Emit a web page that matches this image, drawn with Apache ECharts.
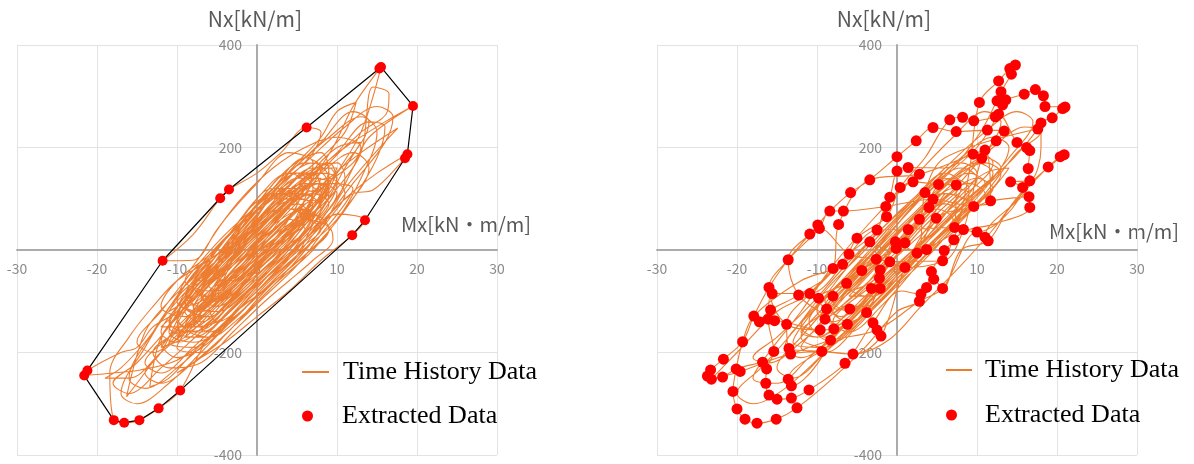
<!DOCTYPE html>
<html><head><meta charset="utf-8">
<script src="https://cdn.jsdelivr.net/npm/echarts@6/dist/echarts.min.js"></script>
<style>html,body{margin:0;padding:0;background:#fff}#c{width:1194px;height:464px}</style>
</head><body><div id="c"></div>
<script>
// ---------------- data ----------------
const seriesNames = ['Time History Data', 'Extracted Data'];
const xTitle = 'Mx[kN・m/m]';
const yTitle = 'Nx[kN/m]';
const xRange = [-30, 30], xStep = 10;
const yRange = [-400, 400], yStep = 200;

const leftHistory = [
[0,0],[4,30],[7,120],[5,150],[1,90],[-3,-10],[-7,-110],[-9,-160],[-6,-150],[-2,-80],[2,-20],[6,60],[9,150],[8,190],[4,160],[-1,70],[-5,-20],[-9,-90],[-11,-150],[-8,-170],[-4,-130],[0,-60],[4,0],[8,70],[10,130],[9,160],[5,130],[1,60],[-4,0],[-8,-40],[-10,-100],[-7,-120],[-3,-70],[1,-10],[5,50],[7,110],[4,120],[0,80],[-3,20],[-6,-50],[-8,-100],
[-12,-180],[-10,-210],[-6,-180],[-2,-110],[2,-40],[6,20],[9,80],[11,140],[10,170],[6,150],[2,100],[-2,50],[-6,-10],[-10,-60],[-12,-110],[-9,-130],[-5,-90],[-1,-30],[3,20],[6,100],[7,170],[4,190],[0,130],[-4,60],[-7,-10],[-9,-60],[-6,-80],[-2,-40],[2,10],[5,40],[8,100],[6,130],[2,90],[-2,10],[-5,-80],[-8,-140],[-10,-190],[-7,-200],[-3,-150],[1,-90],[5,-30],[8,30],[11,90],[12,120],
[9,130],[5,80],[1,20],[-3,-40],[-6,-110],[-5,-140],[-1,-100],[3,-50],[6,-10],[9,40],[7,70],[3,40],[-1,-20],[-5,-90],[-9,-150],[-13,-200],[-11,-230],[-7,-220],[-3,-160],[1,-100],[4,-60],[7,-20],[9.5,21],[9,45],[6,70],[8,120],[12,170],[13,200],[10,220],[6,200],[2,160],[-2,100],[-5,40],[-8,-20],[-11.8,-21],[-8,30],[-4.6,101],[-3.5,118],[0,150],[3,190],[6.2,239],[8,230],[7,190],[4,140],[0,70],[-4,0],[-7,-60],[-10,-120],[-13,-150],[-15,-190],[-17,-200],[-21.2,-235],[-21.6,-245],[-18,-240],[-14.6,-234],[-10,-215],[-6,-170],[-2,-110],[2,-50],[5,10],[8,60],[10,100],[12,160],[14,220],[19.5,281],[16,250],[11,200],[7,150],[3,100],[-1,40],[-5,-30],[-9,-110],[-12,-170],[-13.4,-267],[-11,-250],[-8,-200],[-4,-140],[0,-80],[3,-30],[6,20],[9,70],[12,110],[14.5,117],[18.5,179],[18.8,187],[15,150],[11,100],[8,50],[5,-10],[1,-70],[-2,-120],[-6,-170],[-9.6,-274],[-12.3,-309],[-14.7,-332],[-16.6,-337],[-17.9,-332],[-18.4,-240],[-16,-170],[-13,-110],[-10,-60],[-6,-20],[-2,30],[2,90],[5,140],[8,180],[11,230],[12.4,288],[10,270],[8,220],[5,170],[2,120],[-1,80],[-4,20],[-7,-40],[-11,-100],[-14,-160],[-16.3,-286],[-15,-260],[-12,-200],[-8,-150],[-4,-90],[0,-30],[4,30],[8,90],[10,150],[13,230],[15.5,357],[15.3,354],[12,280],[9.5,200],[6,120],[2,50],[-2,-20],[-6,-90],[-10,-150],[-12,-190],[-9,-170],[-5,-110],[-1,-50],[3,10],[7,70],[10,120],[13,190],[14.5,318],[16.5,305],[16.3,270],[13,230],[9,170],[5,100],[1,30],[-3,-40],[-7,-110],[-11,-170],[-14,-220],[-12,-240],[-8,-190],[-4,-130],[0,-70],[4,-10],[7,30],[10,70],[13.5,58],[11.9,29],[8,-20],[4,-80],[0,-130],[-4,-180],[-8,-220],[-10,-240],[-7,-210],[-3,-150],[1,-80],[5,-20],[8,40],[11,120],[17.6,238],[13,190],[9,140],[5,80],[1,20],[-3,-50],[-7,-120],[-10,-170],[-8,-130],[-4,-70],[0,-10],[4,50],[7,100],[5,110],[1,60],[-3,0],[-6,-60],[-3,-30],
[2,40],[5,90],[3,110],[-1,40],[-4,-40],[-7,-90],[-5,-100],[-1,-30],[3,30],[6,70],[8,140],[5,140],[1,70],[-3,-10],[-6,-70],[-9,-120],[-7,-140],[-3,-90],[1,-20],[4,40],[7,90],[9,120],[6,110],[2,50],[-2,-20],[-6,-100],[-8,-150],[-5,-140],[-1,-80],[3,-10],[6,40],[8,110],[7,150],[3,120],[-1,50],[-5,-30],[-8,-80],[-10,-130],[-8,-160],[-4,-110],[0,-40],[4,20],[7,80],[9,140],[7,170],[3,130],[-1,60],[-4,10],[-7,-50],[-9,-110],[-6,-130],[-2,-70],[2,-10],[5,60],[6,100],[3,90],[-1,20],[-5,-50],[-8,-120],[-6,-160],[-2,-120],[2,-60],[5,-10],[7,50],[9,100],[6,90],[2,30],[-2,-30],[-6,-80],[-9,-140],[-11,-180],[-8,-190],[-4,-140],[0,-70],[4,-10],[7,60],[9,110],[8,150],[4,150],[0,100],[-3,40],[-6,-20],[-9,-70],[-11,-120],[-9,-100],[-5,-50],[-1,10],[3,70],[5,110],[2,110],[-2,40],[-5,-40],[-7,-90],[-4,-90],[0,-30],[4,30],[8,100],[10,160],[7,160],[3,110],[-1,40],[-4,-20],[-8,-70],[-10,-140],[-7,-150],[-3,-100],[1,-40],[4,10],[6,60],[4,80],[0,40],[-3,-20],[-6,-90],[-9,-150],[-6,-170],[-2,-130],[2,-70],[6,0],[8,50],[6,80],[2,40],[-2,-10],[-5,-60],[-3,-60],[1,0],[4,60],[6,120],[2,120],[-2,60],[-5,0],[-8,-60],[-6,-60],[-2,0],[2,60],[4,100],[1,100],[-3,40],[-6,-30],[-4,-60],
[3,60],[6,110],[8,160],[6,180],[2,120],[-2,50],[-6,-30],[-9,-90],[-11,-140],[-9,-160],[-5,-110],[-1,-50],[3,10],[6,50],[8,90],[10,140],[8,150],[4,100],[0,40],[-4,-30],[-7,-80],[-10,-140],[-8,-150],[-4,-100],[0,-40],[3,0],[6,40],[4,60],[1,20],[-2,-30],[-5,-80],[-8,-130],[-6,-130],[-2,-70],[1,-20],[5,40],[8,110],[9,160],[6,170],[2,110],[-2,40],[-5,-10],[-8,-60],[-10,-110],[-12,-160],[-10,-180],[-6,-140],[-2,-80],[2,-20],[5,30],[7,70],[9,130],[7,140],[3,80],[-1,20],[-4,-40],[-7,-90],[-5,-110],[-1,-60],[3,-10],[7,50],[9,90],[7,110],[3,70],[-1,0],[-4,-60],[-7,-120],[-9,-170],[-6,-170],[-2,-110],[2,-50],[5,0],[8,60],[10,110],[8,130],[4,90],[0,20],[-4,-40],[-8,-100],[-10,-150],[-7,-160],[-3,-110],[1,-50],[4,0],[7,60],[5,90],[1,40],[-3,-10],[-6,-60],[-9,-110],[-7,-100],[-3,-50],[0,10],[3,70],[6,130],[4,150],[0,90],[-3,30],[-6,-40],[-9,-100],[-11,-160],[-8,-180],[-4,-150],[0,-90],[4,-30],[7,20],[9,60],[11,110],[9,140],[5,110],[1,50],[-3,-20],[-6,-70],[-4,-80],[0,-20],[4,40],[7,100],[8,130],[5,120],[1,70],[-3,10],[-7,-50],[-10,-100],[-8,-120],[-4,-80],[0,-20],[3,30],[6,80],[3,80],[-1,20],[-4,-30],[-7,-80],[-5,-100],[-1,-60],[2,-20],[5,20],[8,80],[6,110],[2,70],[-2,10],[-6,-50],[-9,-90],[-7,-110],[-3,-70],[1,-10],[5,50],[7,90],[4,100],[0,50],[-4,-10],[-7,-60],[-10,-120],[-12,-150],[-9,-150],[-5,-100],[-1,-40],[3,20],[6,70],[9,120],[7,130],[3,80],[-1,30],[-5,-20],[-8,-70],[-6,-90],[-2,-50],[2,0],[5,50],[7,80],[4,70],[0,20],[-3,-30],[-6,-80],[-8,-110],[-5,-120],[-1,-80],[3,-30],[6,10],[8,40],[6,60],[2,20],[-2,-30],[-5,-70],[-3,-50],
[4,60],[10,150],[14,250],[12,270],[8,210],[2,120],[-4,20],[-9,-70],[-13,-160],[-16,-250],[-14,-270],[-10,-230],[-5,-160],[0,-80],[5,-10],[10,60],[13,140],[15,230],[13,260],[9,220],[4,150],[-1,70],[-6,-10],[-10,-90],[-14,-190],[-17,-280],[-15,-300],[-11,-260],[-7,-200],[-2,-120],[3,-50],[8,20],[12,100],[15,180],[16,240],[14,250],[10,190],[5,120],[0,50],[-5,-30],[-9,-110],[-12,-200],[-14,-240],[-12,-260],[-8,-220],[-3,-150],[2,-70],[7,0],[11,80],[14,160],[12,190],[8,150],[3,80],[-2,10],[-7,-70],[-11,-150],[-15,-220],[-18,-260],[-16,-280],[-12,-230],[-7,-160],[-2,-90],[3,-20],[8,50],[12,130],[16,210],[17,260],[15,280],[11,240],[6,170],[1,100],[-4,30],[-8,-40],[-12,-120],[-15,-180],[-13,-200],[-9,-150],[-4,-80],[1,-10],[6,60],[10,130],[9,170],[5,130],[0,60],[-5,-20],[-10,-100],[-14,-180],[-17,-230],[-19,-250],[-16,-250],[-12,-200],[-7,-130],[-2,-60],[3,10],[8,80],[11,160],[13,210],[10,200],[6,140],[1,70],[-3,0],[-7,-60],[-10,-130],[-8,-160],[-4,-110],[0,-40],[0,0]
];

const leftExtracted = [
[15.3,354],[15.5,357],[19.5,281],[18.8,187],[18.5,179],[13.5,58],[11.9,29],[6.2,239],[-3.5,118],[-4.6,101],[-11.8,-21],[-21.2,-235],[-21.6,-245],[-17.9,-332],[-16.6,-337],[-14.7,-332],[-12.3,-309],[-9.6,-274]
];

const leftHull = [
[15.5,357],[19.5,281],[18.8,187],[18.5,179],[13.5,58],[11.9,29],[-9.6,-274],[-12.3,-309],[-14.7,-332],[-16.6,-337],[-17.9,-332],[-21.6,-245],[-21.2,-235],[-11.8,-21],[-4.6,101],[-3.5,118],[6.2,239],[15.3,354],[15.5,357]
];

const rightHistory = [
[0,0],[-2.6,-18],[-6.3,-65],[-9.8,-94],[-8.8,-115],[-5.9,-115],[-2.2,-55],[1.0,14],[4.0,83],[4.5,99],[2.8,60],[-0.1,3],
[-4.4,-40],[-8.0,-90],[-9.0,-135],[-6.2,-145],[-2.1,-75],[3.7,1],[7.2,44],[7.4,127],[5.2,128],[2.0,133],[-1.4,85],[-2.5,39],
[-6.0,-8],[-10.9,-85],[-13.8,-145],[-13.5,-192],[-9.4,-198],[-5.5,-203],[-2.0,-168],[1.0,-34],[4.9,62],[9.6,85],[11.7,96],[11.0,195],[9.5,187],[2.8,148],[-3.4,137],[-7.3,50],
[-8.0,-36],[-12.3,-88],[-15.8,-117],[-17.2,-140],[-15.3,-138],[-9.6,-156],[-3.8,-122],[-0.9,-23],[5.7,-21],[8.3,40],[10.6,179],[12.4,213],[13.4,232],[11.3,234],[7.4,231],[4.5,239],[2.4,213],[0,182],[-3.4,137],[-5.8,112],[-8.4,76],[-9.9,49],[-10.9,31],[-13.6,-19],[-16.0,-73],[-17.9,-129],[-19.3,-179],[-21.7,-213],[-23.3,-234],[-23.7,-246],[-23.2,-252],[-21.8,-248],[-20.1,-232],[-16.8,-219],[-13.3,-203],[-8.3,-176],[-2.5,-156],[2.8,-100],[5.7,-75],[10.0,35],[11.4,18],[11.0,25],[16.6,135],[16.4,159],[16.6,194],[16.2,200],[15.0,210],[12.7,265],[12.3,260],[9.6,252],[8.2,259],[6.6,254],[3.5,180],[0.4,122],[-1.3,65],[-5.0,23],[-6.8,-28],[-10.9,-85],
[-15.6,-85],[-16.1,-135],[-15.4,-198],[-16.3,-232],[-16.4,-260],[-16.0,-283],[-15.0,-291],[-13.2,-289],[-11.0,-273],[-6.5,-221],[-3.0,-142],[0.5,-80],[3.0,-86],[3.7,-73],[4.3,-42],[5.9,-1],[7.1,20],[9.0,150],[10.3,288],[12.7,330],[14.1,354],[14.8,361],[14.3,343],[13.0,309],[12.5,291],[10.0,220],[6.0,160],[1.4,161],[0,154],[-0.9,103],[-3.4,16],[-8.0,-36],[-12.0,-60],
[-17.9,-129],[-19.3,-179],[-20.1,-232],[-20.5,-276],[-20.0,-310],[-19.0,-330],[-17.5,-338],[-15.1,-330],[-12.5,-308],[-8.0,-250],[-4.0,-190],[0.0,-120],[2.8,-100],[4.6,-57],[5.7,-75],[8.0,0],[11.4,18],[14.0,80],[18.9,162],[20.4,182],[20.9,186],[16.0,120],[12.0,40],[8.0,-30],[3.0,-110],[-1.0,-175],[-5.5,-203],[-9.4,-198],[-13.3,-203],[-19.6,-237],[-23.2,-252],[-20.0,-200],[-15.0,-120],[-10.9,-85],[-6.0,-8],[-2.5,39],[1.4,40],[7.2,44],[8.3,40],[10.0,35],[15.7,122],[14.2,133],[16.6,135],[18.0,200],[18.0,248],[19.4,258],[20.7,276],[21.0,279],[18.5,280],[18.3,301],[17.3,313],[15.9,304],[13.6,293],[13.2,283],[12.7,265],[10.0,200],[5.2,128],[1.0,14],[-2.1,-39],[-2.2,-55],[-3.2,-75],[-2.1,-75],[-6.2,-145],[-7.9,-154],[-9.6,-156],[-13.8,-145],[-16.0,-73],[-13.6,-19],[-9.7,42],[-8.4,76],[-6.7,76],[-1.4,85],[4.5,99],[9.6,85],[11.7,96],[16.5,104],[16.6,83],[12.0,50],[9.0,40],[7.1,20],[5.7,-21],[1.0,-34],[-0.9,-23],[-2.6,-18],[-6.0,-8],[-9.7,42],[-10.9,31],[-13.6,-19],[-12.3,-88],[-8.0,-150],[-13.2,-265],[-13.6,-252],[-8.0,-180],[-3.0,-100],[-0.2,16],[2.5,-6],[3.5,112],[6.0,180],[17.6,236],[14.0,170],[8.0,90],[2.0,0],[-4.0,-80],[-9.0,-135],[-5.0,-60],
[1,20],[4,70],[6,110],[3,100],[-1,30],[-5,-40],[-8,-100],[-6,-120],[-2,-60],[2,0],[5,60],[8,120],[6,140],[2,90],[-2,20],[-6,-50],[-10,-120],[-8,-140],[-4,-90],[0,-30],[4,30],[7,90],[10,150],[8,170],[4,120],[0,60],[-4,-10],[-8,-80],[-11,-140],[-9,-170],[-5,-120],[-1,-50],[3,10],[6,70],[9,120],[7,140],[3,100],[-1,30],[-5,-40],[-9,-100],[-7,-130],[-3,-80],[1,-20],[5,40],[8,80],[11,130],[9,150],[5,110],[1,50],[-3,-20],[-7,-90],[-10,-150],[-12,-190],[-9,-200],[-5,-150],[-1,-80],[3,-20],[7,40],[10,90],[13,150],[11,170],[7,140],[3,80],[-1,10],[-5,-60],[-9,-120],[-12,-160],[-10,-170],[-6,-120],[-2,-60],[2,0],[6,50],[9,110],[7,120],[3,60],[-1,-10],[-4,-70],[-7,-110],[-4,-110],[0,-50],[4,10],[8,60],[12,120],[14,160],[11,150],[7,100],[3,40],[-1,-30],[-5,-90],[-8,-140],[-6,-160],[-2,-110],[2,-40],[5,20],[8,70],[6,90],[2,50],[-2,-20],[-6,-80],[-3,-60],
[2,30],[5,80],[8,130],[6,150],[2,100],[-2,40],[-6,-30],[-9,-90],[-12,-150],[-10,-170],[-6,-130],[-2,-70],[2,-10],[6,50],[9,100],[12,150],[10,170],[6,130],[2,70],[-2,10],[-6,-60],[-9,-110],[-7,-130],[-3,-80],[1,-20],[5,40],[8,90],[10,140],[8,160],[4,120],[0,50],[-4,-20],[-8,-80],[-11,-130],[-13,-180],[-10,-190],[-6,-140],[-2,-80],[2,-20],[6,40],[9,80],[12,120],[10,140],[6,100],[2,40],[-2,-20],[-5,-70],[-8,-120],[-6,-140],[-2,-90],[1,-40],[4,10],[7,60],[5,80],[1,30],[-3,-30],[-7,-100],[-10,-160],[-8,-180],[-4,-130],[0,-70],[4,-10],[8,60],[11,110],[9,130],[5,90],[1,30],[-3,-40],[-6,-90],[-3,-90],[1,-30],[4,20],[7,70],[10,110],[13,160],[11,180],[7,140],[3,80],[-1,20],[-5,-50],[-9,-110],[-12,-170],[-9,-190],[-5,-140],[-1,-80],[3,-10],[7,50],[9,90],[6,110],[2,60],[-2,0],[-6,-70],[-4,-90],[0,-40],[3,10],
[5,80],[10,170],[13,250],[11,270],[7,220],[2,140],[-3,60],[-8,-30],[-12,-120],[-16,-200],[-18,-250],[-15,-260],[-11,-210],[-6,-140],[-1,-60],[4,10],[9,90],[14,180],[17,250],[15,270],[11,230],[6,160],[1,80],[-4,0],[-9,-80],[-13,-160],[-17,-230],[-20,-280],[-18,-300],[-14,-270],[-9,-200],[-4,-130],[1,-50],[6,30],[11,110],[15,190],[18,230],[16,240],[12,200],[7,130],[2,60],[-3,-20],[-8,-100],[-12,-170],[-15,-230],[-13,-250],[-9,-200],[-4,-120],[1,-40],[6,40],[11,120],[14,200],[12,220],[8,180],[3,110],[-2,40],[-7,-40],[-11,-110],[-15,-170],[-18,-210],[-16,-220],[-12,-180],[-7,-110],[-2,-40],[3,30],[8,100],[12,170],[10,190],[5,130],[0,50],[-5,-30],[-10,-110],[-14,-190],[-12,-210],[-7,-150],[-2,-70],[3,0],[0,0]
];

const rightExtracted = [
[14.8,361],[14.1,354],[14.3,343],[12.7,330],[13.0,309],[17.3,313],[15.9,304],[18.3,301],[18.5,280],[12.5,291],[13.6,293],[13.2,283],[12.7,265],[12.3,260],[10.3,288],[6.6,254],[8.2,259],[9.6,252],[4.5,239],[7.4,231],[11.3,234],[13.4,232],[2.4,213],[12.4,213],[15.0,210],[16.2,200],[16.6,194],[9.5,187],[11.0,195],[10.6,179],[0,182],[1.4,161],[0,154],[2.8,148],[2.0,133],[5.2,128],[7.4,127],[16.4,159],[14.2,133],[16.6,135],[15.7,122],[0.4,122],[20.7,276],[21.0,279],[19.4,258],[18.0,248],[17.6,236],[18.9,162],[20.4,182],[20.9,186],
[16.5,104],[16.6,83],[11.7,96],[9.6,85],[4.5,99],[4.0,83],[3.5,112],[-0.9,103],[-1.4,85],[-1.3,65],[2.8,60],[4.9,62],[1.4,40],[7.2,44],[8.3,40],[7.1,20],[10.0,35],[11.0,25],[11.4,18],[-0.2,16],[1.0,14],[-0.1,3],[2.5,-6],[3.7,1],[5.9,-1],[-0.9,-23],[5.7,-21],[1.0,-34],[-2.1,-39],[4.3,-42],[4.6,-57],[5.7,-75],[3.7,-73],[3.0,-86],[2.8,-100],
[-3.4,137],[-5.8,112],[-8.4,76],[-6.7,76],[-7.3,50],[-9.9,49],[-9.7,42],[-10.9,31],[-13.6,-19],[-2.5,39],[-5.0,23],[-3.4,16],[-6.0,-8],[-2.6,-18],[-8.0,-36],[-6.8,-28],[-4.4,-40],[-6.3,-65],[-3.2,-75],[-2.1,-75],[-2.2,-55],
[-16.0,-73],[-15.6,-85],[-12.3,-88],[-10.9,-85],[-9.8,-94],[-8.0,-90],[-8.8,-115],[-5.9,-115],[-3.8,-122],[-15.8,-117],[-17.9,-129],[-17.2,-140],[-16.1,-135],[-15.3,-138],[-13.8,-145],[-9.0,-135],[-9.6,-156],[-7.9,-154],[-6.2,-145],[-3.0,-142],[-2.5,-156],[-2.0,-168],[-8.3,-176],[-19.3,-179],[-13.5,-192],[-13.3,-203],[-15.4,-198],[-9.4,-198],[-5.5,-203],[-6.5,-221],
[-21.7,-213],[-23.3,-234],[-23.7,-246],[-23.2,-252],[-21.8,-248],[-20.1,-232],[-19.6,-237],[-16.8,-219],[-16.3,-232],[-20.5,-276],[-16.4,-260],[-13.6,-252],[-13.2,-265],[-11.0,-273],[-16.0,-283],[-15.0,-291],[-13.2,-289],[-12.5,-308],[-20.0,-310],[-19.0,-330],[-17.5,-338],[-15.1,-330]
];

// ---------------- style ----------------
const ORANGE = '#ED7D31', RED = '#FF0000';
const AXIS = '#ababab', GRID = '#e3e3e3', LBL = '#8a8a8a', TITLE = '#595959';
const FONT = '"Noto Sans CJK JP", "Noto Sans", sans-serif';
const SERIF = '"Liberation Serif", "Times New Roman", serif';
const GRID_W = 480, GRID_H = 410;

function xAx(i) {
  return { gridIndex: i, type: 'value', min: xRange[0], max: xRange[1], interval: xStep,
    position: 'bottom', offset: -GRID_H / 2,
    axisLine: { onZero: false, lineStyle: { color: AXIS, width: 2 } },
    axisTick: { show: false },
    splitLine: { show: true, lineStyle: { color: GRID, width: 1 } },
    axisLabel: { margin: 12, color: LBL, fontSize: 14, fontFamily: FONT } };
}
function yAx(i) {
  return { gridIndex: i, type: 'value', min: yRange[0], max: yRange[1], interval: yStep,
    position: 'left', offset: -GRID_W / 2,
    axisLine: { onZero: false, lineStyle: { color: AXIS, width: 2 } },
    axisTick: { show: false },
    splitLine: { show: true, lineStyle: { color: GRID, width: 1 } },
    axisLabel: { margin: 15, color: LBL, fontSize: 14, fontFamily: FONT } };
}
function lineSeries(i, data) {
  return { name: seriesNames[0], type: 'line', xAxisIndex: i, yAxisIndex: i, data: data,
    symbol: 'none', showSymbol: false, smooth: 0.35, z: 2, silent: true,
    lineStyle: { color: ORANGE, width: 1.1 }, itemStyle: { color: ORANGE } };
}
function dotSeries(i, data, size) {
  return { name: seriesNames[1], type: 'scatter', xAxisIndex: i, yAxisIndex: i, data: data,
    symbol: 'circle', symbolSize: size, z: 5, itemStyle: { color: RED, opacity: 1 } };
}
function legendItem(name, icon, left, top, iw, ih, pad) {
  return { data: [{ name: name, icon: icon }], left: left, top: top, orient: 'vertical', padding: 0,
    itemWidth: iw, itemHeight: ih,
    textStyle: { fontFamily: SERIF, fontSize: 26, color: '#000', padding: [0, 0, 0, pad] } };
}
function titleText(txt, x, y, size) {
  return { type: 'text', x: x, y: y, silent: true,
    style: { text: txt, fill: TITLE, font: size + 'px ' + FONT,
      align: 'center', verticalAlign: 'middle', textAlign: 'center', textVerticalAlign: 'middle' } };
}

const chart = echarts.init(document.getElementById('c'), null, { renderer: 'canvas' });
chart.setOption({
  animation: false,
  backgroundColor: '#ffffff',
  grid: [
    { left: 17, top: 45, width: GRID_W, height: GRID_H, containLabel: false, outerBoundsMode: 'none' },
    { left: 657, top: 45, width: GRID_W, height: GRID_H, containLabel: false, outerBoundsMode: 'none' }
  ],
  xAxis: [xAx(0), xAx(1)],
  yAxis: [yAx(0), yAx(1)],
  legend: [
    legendItem(seriesNames[0], 'rect', 302, 359, 27, 2, 9),
    legendItem(seriesNames[1], 'circle', 302, 403, 13, 11, 23),
    legendItem(seriesNames[0], 'rect', 946, 357, 26, 2, 8),
    legendItem(seriesNames[1], 'circle', 946, 402, 11, 11, 23)
  ],
  graphic: [
    titleText(yTitle, 255, 19, 21),
    titleText(xTitle, 466, 224, 20),
    titleText(yTitle, 884, 19, 21),
    titleText(xTitle, 1114, 231, 20)
  ],
  series: [
    lineSeries(0, leftHistory),
    { name: 'hull', type: 'line', xAxisIndex: 0, yAxisIndex: 0, data: leftHull, symbol: 'none',
      z: 3, silent: true, lineStyle: { color: '#000000', width: 1.2 } },
    dotSeries(0, leftExtracted, 10),
    lineSeries(1, rightHistory),
    dotSeries(1, rightExtracted, 11)
  ]
});
</script>
</body></html>
